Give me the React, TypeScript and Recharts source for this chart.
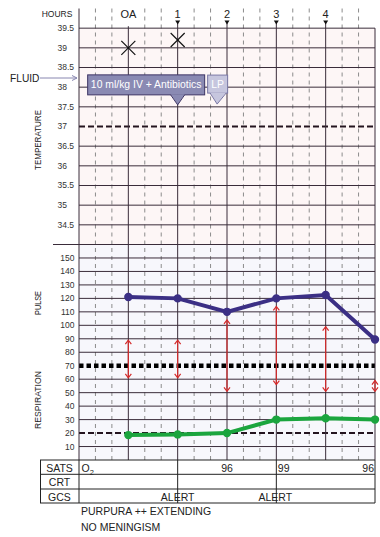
import React from 'react';
import {
  ComposedChart,
  Line,
  Scatter,
  XAxis,
  YAxis,
  ReferenceLine,
  ReferenceArea,
} from 'recharts';

// hours on the chart, OA = 0
const HOUR_TICKS = [0, 1, 2, 3, 4];
const HOUR_LABELS = ['OA', '1', '2', '3', '4'];

const TEMP_TICKS = [34.5, 35, 35.5, 36, 36.5, 37, 37.5, 38, 38.5, 39, 39.5];
const PULSE_TICKS = [10, 20, 30, 40, 50, 60, 70, 80, 90, 100, 110, 120, 130, 140, 150];

const TEMP_HOURS = [0, 1];
const TEMP = [39.0, 39.2];

const OBS_HOURS = [0, 1, 2, 3, 4, 5];
const PULSE = [121, 120, 110, 120, 122.5, 89.5];
const RESP = [18.5, 19, 20, 30, 31, 30];
const BP_SYS = [89, 89, 104, 114, 99, 59];
const BP_DIA = [61, 61, 51, 56, 51, 51];

const NOTES = ['10 ml/kg IV + Antibiotics', 'LP'];
const NOTE_HOURS = [1, 1.8];
const NOTE_TEMP = [37.55, 37.57];

const SATS = ['96', '99', '96'];
const GCS = ['ALERT', 'ALERT'];
const COMMENTS = ['PURPURA ++ EXTENDING', 'NO MENINGISM'];

const FONT = '"Liberation Sans", Arial, Helvetica, sans-serif';
const GRID = '#3a2c3a';
const MINOR = '#8c8c8c';
const PULSE_C = '#3b2f85';
const RESP_C = '#1ba53e';
const BP_C = '#d42a2a';

// layout helpers (plot spans 79..375 for hours -1..5)
const PLOT_L = 79;
const PLOT_R = 375;
const hx = (h: number) => PLOT_L + ((h + 1) * (PLOT_R - PLOT_L)) / 6;
const HEADER_V = 39.76; // temperature level the hour labels sit on

const MINOR_HOURS: number[] = [];
for (let h = -1; h < 5; h++) {
  MINOR_HOURS.push(h + 1 / 3, h + 2 / 3);
}

const tempData = TEMP_HOURS.map((x, i) => ({ x, v: TEMP[i] }));
const pulseData = OBS_HOURS.map((x, i) => ({ x, v: PULSE[i] }));
const respData = OBS_HOURS.map((x, i) => ({ x, v: RESP[i] }));
const headerData = HOUR_TICKS.map((x, i) => ({ x, v: HEADER_V, label: HOUR_LABELS[i] }));

function HourLabel(props: any) {
  const { cx, cy, payload } = props;
  return (
    <g>
      <text x={cx} y={cy} textAnchor="middle" fontSize={11} fill="#222" fontFamily={FONT}>
        {payload.label}
      </text>
      {payload.x > 0 && (
        <path d={`M${cx - 2.5} ${cy + 2.5} L${cx + 2.5} ${cy + 2.5} L${cx} ${cy + 6.5} Z`} fill="#111" />
      )}
    </g>
  );
}

function TempTick(props: any) {
  const { y, payload } = props;
  return (
    <text x={57.5} y={y} dy="0.35em" textAnchor="start" fontSize={8.5} fill="#333" fontFamily={FONT}>
      {payload.value}
    </text>
  );
}

function PulseTick(props: any) {
  const { y, payload } = props;
  return (
    <text x={74.5} y={y} dy="0.35em" textAnchor="end" fontSize={8.5} fill="#333" fontFamily={FONT}>
      {payload.value}
    </text>
  );
}

function XMark(props: any) {
  const { cx, cy } = props;
  const s = 7;
  return (
    <g stroke="#111" strokeWidth={1.2}>
      <line x1={cx - s} y1={cy - s} x2={cx + s} y2={cy + s} />
      <line x1={cx - s} y1={cy + s} x2={cx + s} y2={cy - s} />
    </g>
  );
}

function BigNote(props: any) {
  const { cx, cy, payload } = props;
  const fill = '#8a8ab3';
  const stroke = '#3d3565';
  return (
    <g>
      <rect x={cx - 90} y={cy - 30} width={117} height={20} fill={fill} stroke={stroke} strokeWidth={1} />
      <path d={`M${cx - 7} ${cy - 10.5} L${cx} ${cy} L${cx + 7} ${cy - 10.5} Z`} fill={fill} />
      <path d={`M${cx - 7} ${cy - 10} L${cx} ${cy} L${cx + 7} ${cy - 10}`} fill="none" stroke={stroke} />
      <text x={cx - 31.5} y={cy - 16.5} textAnchor="middle" fontSize={10.4} fill="#fff" fontFamily={FONT}>
        {payload.label}
      </text>
    </g>
  );
}

function SmallNote(props: any) {
  const { cx, cy, payload } = props;
  const fill = '#c6c6de';
  const stroke = '#7a78a6';
  return (
    <g>
      <rect x={cx - 9.5} y={cy - 29} width={20} height={18} fill={fill} stroke={stroke} strokeWidth={1} />
      <path d={`M${cx - 7} ${cy - 11.5} L${cx} ${cy} L${cx + 9} ${cy - 11.5} Z`} fill={fill} />
      <path d={`M${cx - 7} ${cy - 11} L${cx} ${cy} L${cx + 9} ${cy - 11}`} fill="none" stroke={stroke} />
      <text x={cx + 0.5} y={cy - 16} textAnchor="middle" fontSize={10.4} fill="#fff" fontFamily={FONT}>
        {payload.label}
      </text>
    </g>
  );
}

function Chevron(props: any) {
  const { cx, cy, index } = props;
  const d = index === 0 ? 4 : -4;
  return (
    <path
      key={index}
      d={`M${cx - 3} ${cy + d} L${cx} ${cy} L${cx + 3} ${cy + d}`}
      fill="none"
      stroke={BP_C}
      strokeWidth={1.2}
    />
  );
}

function TempChart() {
  return (
    <ComposedChart width={380} height={246} margin={{ top: 8.5, right: 5, bottom: 1.5, left: 0 }}>
      <XAxis type="number" dataKey="x" domain={[-1, 5]} hide />
      <YAxis
        type="number"
        dataKey="v"
        domain={[34, 40]}
        ticks={TEMP_TICKS}
        interval={0}
        width={79}
        axisLine={false}
        tickLine={false}
        tick={<TempTick />}
      />
      <ReferenceArea x1={-1} x2={5} y1={34} y2={39.5} fill="#fdf6f6" fillOpacity={1} stroke="none" />
      {MINOR_HOURS.map((m) => (
        <ReferenceLine key={'m' + m} x={m} stroke={MINOR} strokeDasharray="4 4" />
      ))}
      {TEMP_TICKS.map((t) =>
        t === 37 ? (
          <ReferenceLine key={'t' + t} y={t} stroke="#24141f" strokeWidth={2} strokeDasharray="6 3" />
        ) : (
          <ReferenceLine key={'t' + t} y={t} stroke={GRID} />
        )
      )}
      <ReferenceLine x={-1} stroke={GRID} />
      <ReferenceLine segment={[{ x: 5, y: 39.5 }, { x: 5, y: 34 }]} stroke={GRID} />
      {HOUR_TICKS.map((h) => (
        <ReferenceLine
          key={'h' + h}
          segment={[{ x: h, y: h === 0 ? 39.55 : 39.65 }, { x: h, y: 34 }]}
          stroke={GRID}
        />
      ))}
      <Scatter data={headerData} dataKey="v" shape={<HourLabel />} isAnimationActive={false} />
      <Scatter data={tempData} dataKey="v" shape={<XMark />} isAnimationActive={false} />
      <Scatter
        data={[{ x: NOTE_HOURS[0], v: NOTE_TEMP[0], label: NOTES[0] }]}
        dataKey="v"
        shape={<BigNote />}
        isAnimationActive={false}
      />
      <Scatter
        data={[{ x: NOTE_HOURS[1], v: NOTE_TEMP[1], label: NOTES[1] }]}
        dataKey="v"
        shape={<SmallNote />}
        isAnimationActive={false}
      />
    </ComposedChart>
  );
}

function PulseChart() {
  return (
    <ComposedChart width={380} height={222} margin={{ top: 4.5, right: 5, bottom: 2, left: 0 }}>
      <XAxis type="number" dataKey="x" domain={[-1, 5]} hide />
      <YAxis
        type="number"
        dataKey="v"
        domain={[0, 160]}
        ticks={PULSE_TICKS}
        interval={0}
        width={79}
        axisLine={false}
        tickLine={false}
        tick={<PulseTick />}
      />
      <ReferenceArea x1={-1} x2={5} y1={0} y2={160} fill="#f7f7fc" fillOpacity={1} stroke="none" />
      {MINOR_HOURS.map((m) => (
        <ReferenceLine key={'m' + m} x={m} stroke={MINOR} strokeDasharray="4 4" />
      ))}
      {PULSE_TICKS.map((t) => {
        if (t === 70)
          return <ReferenceLine key={'p' + t} y={t} stroke="#000" strokeWidth={4.5} strokeDasharray="4.5 3" />;
        if (t === 20)
          return <ReferenceLine key={'p' + t} y={t} stroke="#24141f" strokeWidth={2} strokeDasharray="6 3" />;
        return <ReferenceLine key={'p' + t} y={t} stroke={GRID} />;
      })}
      <ReferenceLine x={-1} stroke={GRID} />
      <ReferenceLine x={5} stroke={GRID} />
      {HOUR_TICKS.map((h) => (
        <ReferenceLine key={'h' + h} x={h} stroke={GRID} />
      ))}
      {BP_SYS.map((s, i) => (
        <Line
          key={'bp' + i}
          data={[
            { x: OBS_HOURS[i], v: s },
            { x: OBS_HOURS[i], v: BP_DIA[i] },
          ]}
          dataKey="v"
          stroke={BP_C}
          strokeWidth={1.2}
          dot={(p: any) => <Chevron key={p.index} {...p} />}
          activeDot={false}
          isAnimationActive={false}
        />
      ))}
      <Line
        data={pulseData}
        dataKey="v"
        stroke={PULSE_C}
        strokeWidth={4}
        dot={{ r: 2.2, fill: PULSE_C, stroke: PULSE_C }}
        activeDot={false}
        isAnimationActive={false}
      />
      <Line
        data={respData}
        dataKey="v"
        stroke={RESP_C}
        strokeWidth={4}
        dot={{ r: 2.2, fill: RESP_C, stroke: RESP_C }}
        activeDot={false}
        isAnimationActive={false}
      />
    </ComposedChart>
  );
}

function Overlay() {
  const txt = { fontFamily: FONT, fill: '#222' };
  const rows = [460, 474.3, 489, 503];
  return (
    <svg width={380} height={537} style={{ position: 'absolute', left: 0, top: 0, pointerEvents: 'none' }}>
      <text x={57} y={17} textAnchor="middle" fontSize={8.5} {...txt}>
        HOURS
      </text>
      <text x={10} y={81.5} fontSize={10.2} {...txt}>
        FLUID
      </text>
      <line x1={40} y1={78} x2={77} y2={78} stroke="#8886b0" />
      <path d="M72 75.5 L77 78 L72 80.5" fill="none" stroke="#8886b0" />
      <text
        transform="translate(41 140) rotate(-90)"
        textAnchor="middle"
        fontSize={8.5}
        textLength={60}
        lengthAdjust="spacingAndGlyphs"
        {...txt}
      >
        TEMPERATURE
      </text>
      <text
        transform="translate(41 303) rotate(-90)"
        textAnchor="middle"
        fontSize={8.5}
        textLength={24}
        lengthAdjust="spacingAndGlyphs"
        {...txt}
      >
        PULSE
      </text>
      <text
        transform="translate(41 400) rotate(-90)"
        textAnchor="middle"
        fontSize={8.5}
        textLength={58}
        lengthAdjust="spacingAndGlyphs"
        {...txt}
      >
        RESPIRATION
      </text>
      <line x1={53} y1={244.5} x2={PLOT_R} y2={244.5} stroke={GRID} />

      {/* observation table */}
      <g stroke="#222" strokeWidth={1}>
        {rows.map((y) => (
          <line key={y} x1={40} y1={y} x2={PLOT_R} y2={y} />
        ))}
        <line x1={40.5} y1={460} x2={40.5} y2={503} />
        <line x1={PLOT_L} y1={460} x2={PLOT_L} y2={503} />
        <line x1={hx(1)} y1={460} x2={hx(1)} y2={503} />
        <line x1={hx(3)} y1={460} x2={hx(3)} y2={503} />
        <line x1={PLOT_R} y1={460} x2={PLOT_R} y2={503} />
      </g>
      <g fontSize={10.5} {...txt}>
        <text x={59.5} y={472} textAnchor="middle">SATS</text>
        <text x={59.5} y={486} textAnchor="middle">CRT</text>
        <text x={59.5} y={500.5} textAnchor="middle">GCS</text>
        <text x={81.5} y={472}>
          O<tspan dy={2.5} fontSize={7.5}>2</tspan>
        </text>
        <text x={hx(2)} y={472} textAnchor="middle">{SATS[0]}</text>
        <text x={hx(3) + 1.5} y={472}>{SATS[1]}</text>
        <text x={PLOT_R - 1} y={472} textAnchor="end">{SATS[2]}</text>
        <text x={hx(1)} y={500.5} textAnchor="middle">{GCS[0]}</text>
        <text x={hx(3) - 1} y={500.5} textAnchor="middle">{GCS[1]}</text>
        <text x={81} y={515}>{COMMENTS[0]}</text>
        <text x={81} y={530.5}>{COMMENTS[1]}</text>
      </g>
    </svg>
  );
}

export default function App() {
  return (
    <div style={{ position: 'absolute', left: 0, top: 0, width: 380, height: 537, background: '#fff', fontFamily: FONT }}>
      <div style={{ position: 'absolute', left: 0, top: 0 }}>
        <TempChart />
      </div>
      <div style={{ position: 'absolute', left: 0, top: 240 }}>
        <PulseChart />
      </div>
      <Overlay />
    </div>
  );
}
